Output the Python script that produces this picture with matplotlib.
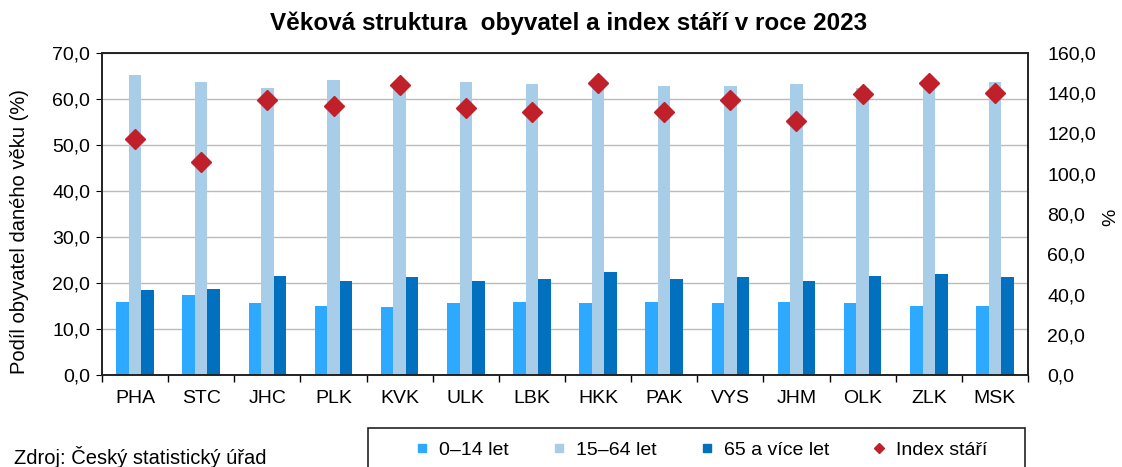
import numpy as np
import matplotlib.pyplot as plt
from matplotlib.patches import Rectangle
from matplotlib.ticker import FuncFormatter, MultipleLocator

# --------------------------------------------------
# Data
# --------------------------------------------------
regions = ["PHA", "STC", "JHC", "PLK", "KVK", "ULK", "LBK",
           "HKK", "PAK", "VYS", "JHM", "OLK", "ZLK", "MSK"]
age_0_14 = [15.9, 17.5, 15.6, 15.1, 14.7, 15.6, 15.9,
            15.6, 15.9, 15.6, 15.9, 15.6, 15.1, 15.1]
age_15_64 = [65.2, 63.6, 62.5, 64.1, 63.6, 63.6, 63.2,
             62.6, 62.8, 62.8, 63.2, 62.3, 63.3, 63.6]
age_65_plus = [18.5, 18.8, 21.6, 20.4, 21.2, 20.4, 20.9,
               22.5, 20.9, 21.2, 20.4, 21.6, 22.0, 21.2]
index_stari = [117.1, 105.7, 136.5, 133.7, 144.1, 132.8, 130.8,
               145.1, 130.8, 136.5, 126.2, 139.5, 145.0, 140.3]

series_labels = ["0–14 let", "15–64 let", "65 a více let", "Index stáří"]
colors = ["#2DA9FF", "#A8CDE8", "#0070BF"]
marker_color = "#C0202A"

plt.rcParams["font.family"] = ["Liberation Sans", "DejaVu Sans"]
plt.rcParams["font.size"] = 14

comma = FuncFormatter(lambda v, p: f"{v:.1f}".replace(".", ","))

fig = plt.figure(figsize=(11.22, 4.67), dpi=100)
W, H = 1122, 467
ax = fig.add_axes([102 / W, 1 - 375 / H, (1028 - 102) / W, (375 - 53) / H])

x = np.arange(len(regions))
bw = 0.19
ax.bar(x - bw, age_0_14, bw, color=colors[0], zorder=2)
ax.bar(x, age_15_64, bw, color=colors[1], zorder=2)
ax.bar(x + bw, age_65_plus, bw, color=colors[2], zorder=2)

ax.set_xlim(-0.5, len(regions) - 0.5)
ax.set_ylim(0, 70)
ax.yaxis.set_major_locator(MultipleLocator(10))
ax.yaxis.set_major_formatter(comma)
ax.grid(axis="y", color="#BBBBBB", lw=1, zorder=0)
ax.set_xticks(x)
ax.set_xticklabels(regions)
ax.set_xticks(np.arange(-0.5, len(regions)), minor=True)
ax.tick_params(axis="x", which="major", length=0, pad=11)
ax.tick_params(axis="x", which="minor", length=5, width=1)
ax.tick_params(axis="y", length=4.5, direction="out", pad=4)
for s in ax.spines.values():
    s.set_color("#222222")
    s.set_linewidth(1.2)
ax.set_ylabel("Podíl obyvatel daného věku (%)", fontsize=14.5, va="center")
ax.yaxis.set_label_coords((20 - 102) / 926, (375 - 232) / 322)

ax2 = ax.twinx()
ax2.plot(x, index_stari, ls="none", marker="D", ms=10,
         color=marker_color, zorder=5)
ax2.set_ylim(0, 160)
ax2.yaxis.set_major_locator(MultipleLocator(20))
ax2.yaxis.set_major_formatter(comma)
ax2.tick_params(axis="y", length=0, pad=14)
ax2.set_ylabel("%", fontsize=14, rotation=90, va="center")
ax2.yaxis.set_label_coords((1111 - 102) / 926, (375 - 217) / 322)
for s in ax2.spines.values():
    s.set_color("#222222")
    s.set_linewidth(1.2)

fig.text(569 / W, 1 - 23 / H, "Věková struktura  obyvatel a index stáří v roce 2023",
         ha="center", va="center", fontsize=17.5, fontweight="bold")
fig.text(14 / W, 1 - 457 / H, "Zdroj: Český statistický úřad",
         ha="left", va="center", fontsize=14.5)

# legend with a frame that runs off the bottom edge
fig.patches.append(Rectangle((368 / W, -0.05), (1025 - 368) / W, 0.05 + (467 - 428) / H,
                             transform=fig.transFigure, fill=False,
                             edgecolor="#222222", lw=1.2))
handles = [
    plt.Line2D([], [], ls="none", marker="s", ms=6, color=colors[0]),
    plt.Line2D([], [], ls="none", marker="s", ms=6, color=colors[1]),
    plt.Line2D([], [], ls="none", marker="s", ms=6, color=colors[2]),
    plt.Line2D([], [], ls="none", marker="D", ms=5, color=marker_color),
]
fig.legend(handles, series_labels, loc="center", ncol=4, frameon=False,
           bbox_to_anchor=(701 / W, 1 - 450 / H), fontsize=14,
           handletextpad=0.45, columnspacing=2.2, handlelength=0.8)

fig.savefig("out.png", dpi=100)
